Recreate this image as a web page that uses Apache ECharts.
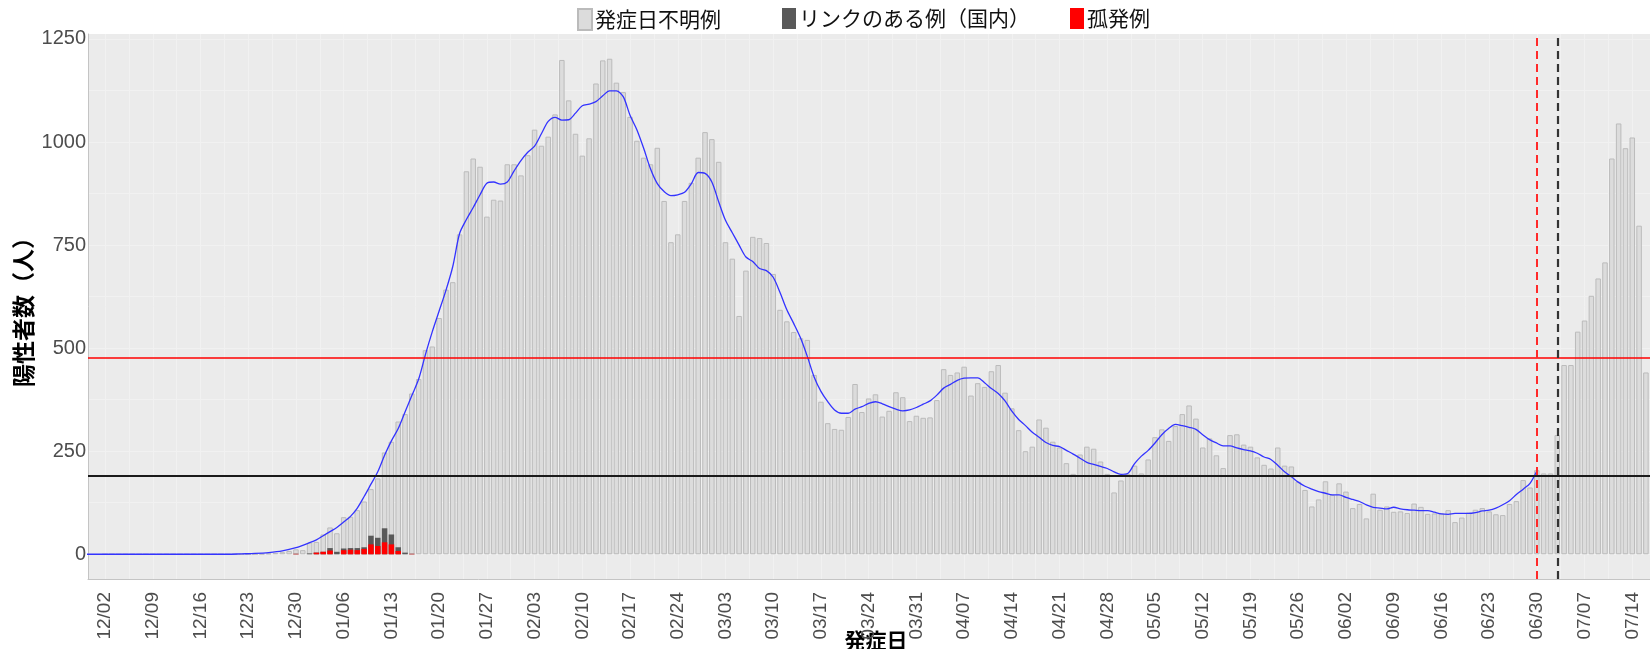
<!DOCTYPE html>
<html>
<head>
<meta charset="utf-8">
<script src="https://cdn.jsdelivr.net/npm/echarts@6/dist/echarts.min.js"></script>
<style>
  html, body { margin: 0; padding: 0; background: #ffffff; }
  #chart { width: 1650px; height: 649px; }
</style>
</head>
<body>
<div id="chart"></div>
<script>
// Day 0 is 12/02; every array below is indexed by day from 12/02.
const tickLabels = ['12/02','12/09','12/16','12/23','12/30','01/06','01/13','01/20','01/27',
  '02/03','02/10','02/17','02/24','03/03','03/10','03/17','03/24','03/31','04/07','04/14',
  '04/21','04/28','05/05','05/12','05/19','05/26','06/02','06/09','06/16','06/23','06/30',
  '07/07','07/14'];
const tickDays = tickLabels.map((_, i) => i * 7);

// 発症日不明例 (days 0 .. 227)
const unknownOnset = [
  0,0,0,0,0,0,0,0,0,0,0,0,0,0,0,0,0,0,0,0,0,0,0,
  1,2,3,5,8,11,10,
  26,26,42,50,45,76,76,92,111,113,144,184,225,305,336,389,
  425,495,504,573,642,660,776,929,960,940,
  819,860,858,946,946,919,968,1030,991,1013,
  1067,1199,1101,1020,967,1009,1142,1198,1202,1144,
  1121,1061,1003,962,946,986,857,757,776,857,
  901,962,1024,1007,952,757,717,578,688,770,
  767,755,680,593,565,539,524,520,435,370,
  318,304,302,333,413,345,378,388,334,348,
  393,381,323,336,331,332,374,449,435,441,
  455,385,415,406,444,459,392,354,301,250,
  261,327,307,273,259,221,195,242,261,256,
  225,195,150,179,195,215,196,230,284,303,
  275,311,340,361,329,259,281,240,209,289,
  291,266,261,235,217,208,259,215,213,176,
  156,116,133,177,144,172,152,112,122,87,
  147,108,116,103,104,100,123,115,98,99,
  99,107,78,89,101,108,112,104,97,95,
  122,129,180,162,204,196,196,289,459,459,
  540,567,627,669,708,960,1045,985,1011,797,
  441,137
];

// リンクのある例（国内） and 孤発例, days 28 .. 45
const earlyStart = 28;
const linkedCases   = [0,0,2,0,0,6,6,4,4,5,4,21,20,34,24,9,4,0];
const sporadicCases = [1,0,0,4,6,9,0,10,11,10,13,24,20,29,24,8,0,1];

// smoothed trend (day, value)
const trendDays = [-3,0,5,10,15,18,20,22,24,26,28,30,31,32,33,34,35,36,37,38,39,40,41,42,43,44,45,46,47,48,49,50,
  51,52,53,54,55,56,57,58,59,60,61,62,63,64,65,66,67,68,69,70,71,72,73,74,75,76,77,78,79,80,
  81,82,83,84,85,86,87,88,89,90,91,92,93,94,95,96,97,98,99,100,101,102,103,104,105,106,107,108,109,110,
  111,112,113,114,115,116,117,118,119,120,121,122,123,124,125,126,127,128,129,130,131,132,133,134,135,
  136,137,138,139,140,141,142,143,144,145,146,147,148,149,150,151,152,153,154,155,156,157,158,159,160,
  161,162,163,164,165,166,167,168,169,170,171,172,173,174,175,176,177,178,179,180,181,182,183,184,185,
  186,187,188,189,190,191,192,193,194,195,196,197,198,199,200,201,202,203,204,205,206,207,208,209,210];
const trendValues = [0,0,0,0,0,0,1,2,4,8,16,28,35,45,55,65,78,92,112,140,170,200,240,275,305,345,385,425,485,540,590,640,
  698,778,812,841,872,900,903,898,903,930,955,975,990,1020,1050,1060,1053,1054,1070,1088,1092,1098,1112,1124,1124,1110,1065,1030,985,935,
  899,880,870,872,878,899,926,924,903,855,810,780,750,721,710,693,688,672,635,593,560,525,480,430,395,370,350,342,342,352,
  358,366,370,365,358,352,348,350,356,364,372,386,403,412,422,427,428,428,416,402,390,372,347,327,312,
  296,284,271,264,261,252,243,233,223,218,213,208,200,194,196,220,238,252,270,290,305,315,312,308,303,
  290,278,270,263,263,258,254,251,245,236,230,216,200,188,175,165,158,152,148,144,144,138,133,128,120,
  114,112,110,114,110,108,107,106,106,102,98,97,99,99,99,101,105,107,112,120,130,145,158,172,202];

// reference levels and marker days
const upperLevel = 477;
const lowerLevel = 190;
const markerDayRed = 210;   // 06/30
const markerDayBlack = 213; // 07/03

const yLabels = [0, 250, 500, 750, 1000, 1250];
const yGrid = [0, 125, 250, 375, 500, 625, 750, 875, 1000, 1125, 1250];
const xGrid = [];
for (let d = 0; d <= 226; d += 3.5) xGrid.push(d);

// bar tops for the layered (stacked-looking) columns
const partAt = (arr, i) => (arr[i - earlyStart] === undefined ? 0 : arr[i - earlyStart]);
const sporadicTop = unknownOnset.map((_, i) => [i, partAt(sporadicCases, i)]);
const linkedTop = unknownOnset.map((_, i) => [i, partAt(sporadicCases, i) + partAt(linkedCases, i)]);
const unknownTop = unknownOnset.map((v, i) => [i, v + partAt(sporadicCases, i) + partAt(linkedCases, i)]);

const FONT = '"Liberation Sans", Arial, "Noto Sans CJK JP", sans-serif';
const JFONT = '"Noto Sans CJK JP", "Liberation Sans", sans-serif';

const chart = echarts.init(document.getElementById('chart'), null, { renderer: 'canvas' });

const legendBase = {
  top: 8, padding: 0, itemWidth: 14, itemHeight: 21, itemGap: 0, icon: 'rect', selectedMode: false,
  textStyle: { fontSize: 21, color: '#111111', fontFamily: JFONT, padding: [0, 0, 0, -2] }
};

const BAR_W = 5.5;

chart.setOption({
  animation: false,
  backgroundColor: '#ffffff',
  legend: [
    Object.assign({}, legendBase, { left: 577, data: ['発症日不明例'] }),
    Object.assign({}, legendBase, { left: 782, data: ['リンクのある例（国内）'] }),
    Object.assign({}, legendBase, { left: 1070, data: ['孤発例'] })
  ],
  grid: {
    left: 88, right: 0, top: 34, bottom: 70,
    containLabel: false, outerBoundsMode: 'none',
    show: true, backgroundColor: '#EBEBEB', borderWidth: 0
  },
  xAxis: {
    type: 'value', min: -2.5, max: 226.6,
    name: '発症日', nameLocation: 'middle', nameGap: 51, nameMoveOverlap: false,
    nameTextStyle: { fontSize: 21, fontWeight: 'bold', color: '#000', fontFamily: JFONT, padding: [0, 0, 0, 14] },
    axisLine: { show: true, onZero: false, lineStyle: { color: '#C4C4C4', width: 1 } },
    axisTick: { show: false, customValues: xGrid },
    splitLine: { show: true, lineStyle: { color: '#F1F1F1', width: 1 } },
    axisLabel: {
      customValues: tickDays, rotate: 90, margin: 13,
      fontSize: 19, color: '#4D4D4D', fontFamily: FONT,
      formatter: v => tickLabels[Math.round(v / 7)]
    }
  },
  yAxis: {
    type: 'value', min: -60, max: 1262,
    name: '陽性者数（人）', nameLocation: 'middle', nameGap: 53, nameRotate: 90, nameMoveOverlap: false,
    nameTextStyle: { fontSize: 23, fontWeight: 'bold', color: '#000', fontFamily: JFONT },
    axisLine: { show: true, onZero: false, lineStyle: { color: '#C4C4C4', width: 1 } },
    axisTick: { show: false, customValues: yGrid },
    splitLine: { show: true, lineStyle: { color: '#F1F1F1', width: 1 } },
    axisLabel: {
      customValues: yLabels, margin: 2,
      fontSize: 20, color: '#4D4D4D', fontFamily: FONT,
      formatter: v => String(v)
    }
  },
  series: [
    {
      name: '発症日不明例', type: 'bar', barWidth: BAR_W, barGap: '-100%', z: 2,
      itemStyle: { color: '#DCDCDC', borderColor: '#BBBBBB', borderWidth: 1 },
      data: unknownTop
    },
    {
      name: 'リンクのある例（国内）', type: 'bar', barWidth: BAR_W, barGap: '-100%', z: 2,
      itemStyle: { color: '#595959' },
      data: linkedTop
    },
    {
      name: '孤発例', type: 'bar', barWidth: BAR_W, barGap: '-100%', z: 2,
      itemStyle: { color: '#FF0000' },
      data: sporadicTop
    },
    {
      name: 'trend', type: 'line', z: 4, showSymbol: false, smooth: 0.3, silent: true,
      lineStyle: { color: '#3333FF', width: 1.3 },
      data: trendDays.map((d, i) => [d, trendValues[i]]),
      markLine: {
        silent: true, symbol: 'none', label: { show: false },
        data: [
          { yAxis: upperLevel, lineStyle: { color: '#FF0000', width: 1.5, type: 'solid' } },
          { yAxis: lowerLevel, lineStyle: { color: '#1A1A1A', width: 2, type: 'solid' } },
          { xAxis: markerDayRed, lineStyle: { color: '#FF2A2A', width: 2, type: [8, 5] } },
          { xAxis: markerDayBlack, lineStyle: { color: '#333333', width: 2.2, type: [8, 5] } }
        ]
      }
    }
  ]
});
</script>
</body>
</html>
